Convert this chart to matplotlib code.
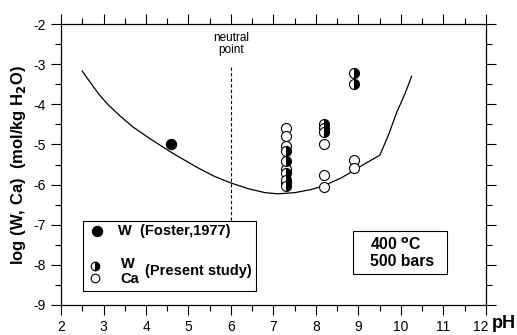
import matplotlib
matplotlib.use("Agg")
import matplotlib.pyplot as plt
from matplotlib.patches import Rectangle
from matplotlib.transforms import ScaledTranslation

plt.rcParams['font.family'] = ['Liberation Sans', 'DejaVu Sans']
plt.rcParams['axes.unicode_minus'] = False

# Solubility curve (log W vs pH)
curve_ph = [2.5, 2.7, 2.9, 3.1, 3.4, 3.7, 4.1, 4.6, 5.2, 5.6, 6.0, 6.4, 6.8, 7.1,
            7.5, 7.9, 8.2, 8.6, 8.9, 9.2, 9.5, 9.7, 9.9, 10.1, 10.25]
curve_logm = [-3.17, -3.47, -3.76, -4.0, -4.3, -4.57, -4.86, -5.2, -5.57, -5.79, -5.96, -6.1, -6.2, -6.23,
              -6.2, -6.12, -6.02, -5.83, -5.64, -5.45, -5.27, -4.78, -4.2, -3.72, -3.3]

# Foster (1977) tungsten datum
foster_ph = [4.6]
foster_logm = [-5.0]

# Present study: tungsten (half-filled) and calcium (open)
w_ph = [7.3, 7.3, 7.3, 7.3, 7.3, 8.2, 8.2, 8.2, 8.9, 8.9]
w_logm = [-5.15, -5.42, -5.72, -5.88, -6.04, -4.48, -4.58, -4.68, -3.22, -3.5]
ca_ph = [7.3, 7.3, 7.3, 7.3, 7.3, 8.2, 8.2, 8.2, 8.9, 8.9]
ca_logm = [-4.58, -4.8, -5.03, -5.62, -5.95, -5.0, -5.75, -6.07, -5.38, -5.58]

neutral_ph = 6.0

xticks = [2, 3, 4, 5, 6, 7, 8, 9, 10, 11, 12]
yticks = [-9, -8, -7, -6, -5, -4, -3, -2]

fig = plt.figure(figsize=(5.17, 3.35), dpi=100)
ax = fig.add_axes([0.118, 0.0896, 0.822, 0.8384])

ax.plot(curve_ph, curve_logm, color='black', lw=0.9)
ax.plot([neutral_ph, neutral_ph], [-3.08, -6.92], color='black', lw=0.8, ls=(0, (3, 2)))
ax.text(neutral_ph, -2.5, 'neutral\npoint', ha='center', va='center', fontsize=8.5, linespacing=1.05)

ms = 7.2
ax.plot(foster_ph, foster_logm, 'o', color='black', ms=ms)
ax.plot(ca_ph, ca_logm, 'o', mfc='white', mec='black', mew=0.8, ms=ms, ls='none')
ax.plot(w_ph, w_logm, 'o', fillstyle='right', color='black', markerfacecoloralt='white',
        mec='black', mew=0.8, ms=ms, ls='none')

# legend box
ax.add_patch(Rectangle((2.52, -8.66), 4.07, 1.75, fill=False, lw=0.8, ec='black', zorder=3))
ax.plot([2.85], [-7.16], 'o', color='black', ms=ms)
ax.text(3.34, -7.16, 'W  (Foster,1977)', fontsize=10.5, fontweight='bold', va='center')
ax.plot([2.8], [-8.02], 'o', fillstyle='right', color='black', markerfacecoloralt='white',
        mec='black', mew=0.8, ms=ms - 1)
ax.plot([2.8], [-8.32], 'o', mfc='white', mec='black', mew=0.8, ms=ms - 1)
ax.text(3.4, -7.98, 'W', fontsize=10.5, fontweight='bold', va='center')
ax.text(3.4, -8.36, 'Ca', fontsize=10.5, fontweight='bold', va='center')
ax.text(3.98, -8.16, '(Present study)', fontsize=10.5, fontweight='bold', va='center')

# conditions box
ax.add_patch(Rectangle((8.87, -8.23), 2.21, 1.07, fill=False, lw=0.8, ec='black', zorder=3))
ax.text(9.27, -7.7, '400 $^{\\mathbf{o}}$C\n500 bars', fontsize=11.3, fontweight='bold',
        va='center', ha='left', linespacing=1.1)

ax.set_xlim(2, 12)
ax.set_ylim(-9, -2)
ax.set_xticks(xticks)
ax.set_yticks(yticks)
ax.set_xticks([x + 0.5 for x in xticks[:-1]], minor=True)
ax.set_yticks([y + 0.5 for y in yticks[:-1]], minor=True)
ax.tick_params(which='both', direction='out', top=True, right=True, labeltop=False, labelright=False,
               labelsize=10, width=0.8, pad=4)
ax.tick_params(which='major', length=7)
ax.tick_params(which='minor', length=4)
for s in ax.spines.values():
    s.set_linewidth(0.9)

# nudge the last pH tick label left to leave room for the axis name
last = ax.get_xticklabels()[-1]
last.set_transform(last.get_transform() + ScaledTranslation(-5 / 100, 0, fig.dpi_scale_trans))

ax.set_ylabel('log (W, Ca)  (mol/kg H$_\\mathbf{2}$O)', fontsize=12, fontweight='bold', labelpad=4)
fig.text(0.975, 0.033, 'pH', fontsize=13, fontweight='bold', ha='center', va='center')

fig.savefig('out.png', dpi=100)
